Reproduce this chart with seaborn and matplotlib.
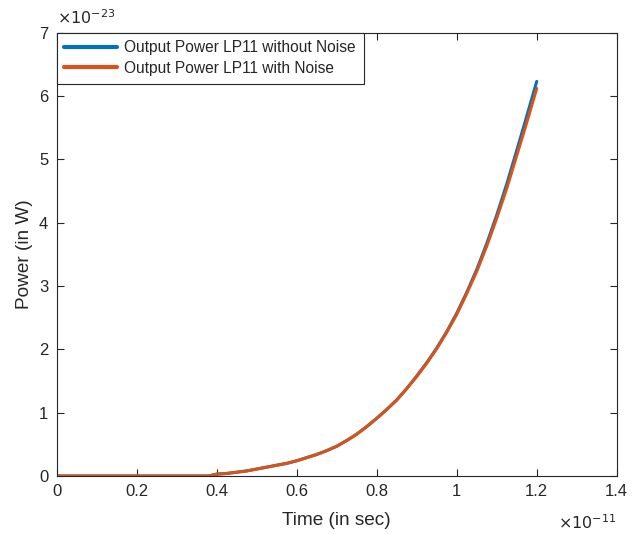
import numpy as np
import pandas as pd
import matplotlib
matplotlib.use("Agg")
import matplotlib.pyplot as plt
import seaborn as sns

# time in units of 1e-11 s, power in units of 1e-23 W
time_vals = [0.0, 0.38, 0.400, 0.425, 0.450, 0.475, 0.500, 0.525, 0.550, 0.575,
             0.600, 0.625, 0.650, 0.675, 0.700, 0.725, 0.750, 0.775, 0.800,
             0.825, 0.850, 0.875, 0.900, 0.925, 0.950, 0.975, 1.000, 1.025,
             1.050, 1.075, 1.100, 1.125, 1.150, 1.175, 1.200]
power_no_noise = [0.0, 0.0, 0.03, 0.04, 0.06, 0.08, 0.11, 0.14, 0.17, 0.20,
                  0.24, 0.29, 0.34, 0.40, 0.47, 0.56, 0.66, 0.78, 0.91,
                  1.05, 1.20, 1.38, 1.58, 1.79, 2.02, 2.28, 2.57, 2.90,
                  3.26, 3.67, 4.12, 4.61, 5.14, 5.68, 6.23]
power_noise = [0.0, 0.0, 0.03, 0.04, 0.06, 0.08, 0.11, 0.14, 0.17, 0.20,
               0.24, 0.29, 0.34, 0.40, 0.47, 0.56, 0.66, 0.78, 0.91,
               1.05, 1.20, 1.38, 1.57, 1.78, 2.01, 2.27, 2.55, 2.88,
               3.23, 3.63, 4.07, 4.54, 5.06, 5.58, 6.12]
series_names = ["Output Power LP11 without Noise", "Output Power LP11 with Noise"]
x_ticks = [0, 0.2, 0.4, 0.6, 0.8, 1, 1.2, 1.4]
y_ticks = [0, 1, 2, 3, 4, 5, 6, 7]

df = pd.DataFrame({
    "time": time_vals * 2,
    "power": power_no_noise + power_noise,
    "series": [series_names[0]] * len(time_vals) + [series_names[1]] * len(time_vals),
})

sns.set_style("ticks")
plt.rcParams["font.family"] = ["Liberation Sans", "DejaVu Sans"]

fig = plt.figure(figsize=(6.36, 5.34), dpi=100)
ax = fig.add_axes([0.0891, 0.1086, 0.9697 - 0.0891, 0.9388 - 0.1086])

palette = {series_names[0]: "#0072BD", series_names[1]: "#D95319"}
sns.lineplot(data=df, x="time", y="power", hue="series", palette=palette,
             linewidth=2.2, ax=ax, sort=False)

ax.set_xlim(0, 1.4)
ax.set_ylim(0, 7)
ax.set_xticks(x_ticks)
ax.set_xticklabels([f"{v:g}" for v in x_ticks])
ax.set_yticks(y_ticks)
ax.set_yticklabels([f"{v:g}" for v in y_ticks])

edge = "#262626"
for s in ax.spines.values():
    s.set_visible(True)
    s.set_color(edge)
    s.set_linewidth(0.8)
ax.tick_params(direction="in", length=5, width=0.8, colors=edge, labelsize=12,
               top=True, right=True, labelcolor="#262626", pad=6)

ax.set_xlabel("Time (in sec)", fontsize=13.7, color="#262626", labelpad=9)
ax.set_ylabel("Power (in W)", fontsize=13.7, color="#262626", labelpad=4)

ax.text(0.0, 1.012, r"$\times10^{-23}$", transform=ax.transAxes, fontsize=11.5,
        color="#262626", ha="left", va="bottom")
ax.text(1.0, -0.085, r"$\times10^{-11}$", transform=ax.transAxes, fontsize=11.5,
        color="#262626", ha="right", va="top")

leg = ax.legend(loc="upper left", bbox_to_anchor=(0, 1), borderaxespad=0,
                fontsize=11.2, frameon=True, fancybox=False, handlelength=3.4,
                handletextpad=0.45, borderpad=0.5, labelspacing=0.35)
leg.get_frame().set_edgecolor(edge)
leg.get_frame().set_linewidth(0.8)
leg.get_frame().set_alpha(1)
for line in leg.get_lines():
    line.set_linewidth(3)

fig.savefig("out.png", dpi=100, facecolor="white")
